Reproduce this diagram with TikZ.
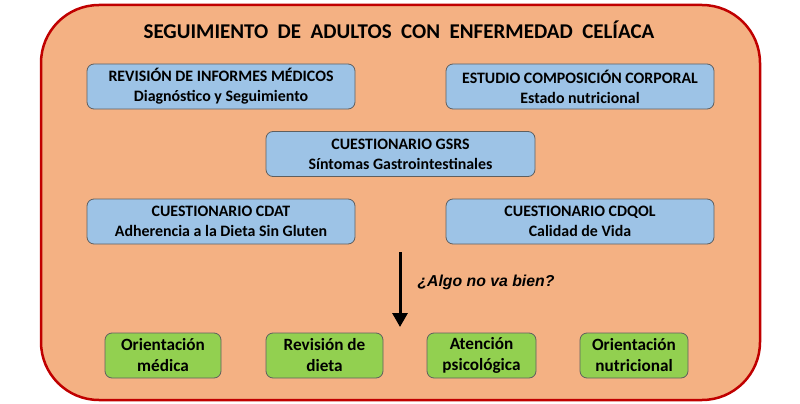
\documentclass[tikz,border=0pt]{standalone}
\usepackage{fontspec}
\setmainfont{Carlito}
\newfontfamily\arialfont{Liberation Sans}
\usetikzlibrary{positioning,arrows.meta}
\definecolor{peach}{HTML}{F4B183}
\definecolor{framered}{HTML}{C00000}
\definecolor{skyblue}{HTML}{9DC3E6}
\definecolor{leafgreen}{HTML}{92D050}
\definecolor{boxedge}{HTML}{5F5F5F}
\tikzset{
  panel/.style={draw=framered, line width=2.5pt, fill=peach, rounded corners=58pt},
  infobox/.style={draw=boxedge, fill=skyblue, rounded corners=7pt, line width=0.8pt,
    minimum width=268pt, minimum height=45pt, inner sep=0pt, align=center,
    font=\fontsize{15.9}{20}\selectfont\bfseries},
  actbox/.style={draw=boxedge, fill=leafgreen, rounded corners=7pt, line width=0.8pt,
    minimum height=45pt, inner sep=0pt, align=center,
    font=\fontsize{17.2}{21}\selectfont\bfseries},
  flow/.style={line width=3pt, -{Triangle[width=15pt,length=14pt]}}
}
\begin{document}
\begin{tikzpicture}[x=1pt,y=-1pt]
  \useasboundingbox (0,0) rectangle (800,404);
  \draw[panel] (41,5) rectangle (760,400);
  \node[font=\fontsize{21}{25}\selectfont\bfseries] (title) at (399,30)
    {SEGUIMIENTO\ \ DE\ \ ADULTOS\ \ CON\ \ ENFERMEDAD\ \ CELÍACA};
  % blue boxes
  \node[infobox] (informes) at (221,86.5) {REVISIÓN DE INFORMES MÉDICOS\\Diagnóstico y Seguimiento};
  \node[infobox] (corporal) at (580,86.5) {ESTUDIO COMPOSICIÓN CORPORAL\\Estado nutricional};
  \node[infobox, minimum width=269pt] (gsrs) at (400.5,154) {CUESTIONARIO GSRS\\Síntomas Gastrointestinales};
  \node[infobox] (cdat) at (221,221.5) {CUESTIONARIO CDAT\\Adherencia a la Dieta Sin Gluten};
  \node[infobox] (cdqol) at (580,221.5) {CUESTIONARIO CDQOL\\Calidad de Vida};
  % arrow and question
  \coordinate (qtop) at (400,252);
  \coordinate (qbot) at (400,327);
  \draw[flow] (qtop) -- (qbot);
  \node[anchor=west, font=\arialfont\fontsize{15.8}{19}\selectfont\bfseries\itshape] (question) at (414,282) {¿Algo no va bien?};
  % green boxes
  \node[actbox, minimum width=116pt] (medica) at (163,355.5) {Orientación\\médica};
  \node[actbox, minimum width=117pt] (dieta) at (324.5,355.5) {Revisión de\\dieta};
  \node[actbox, minimum width=109pt] (psico) at (481.5,355.5) {Atención\\psicológica};
  \node[actbox, minimum width=108pt] (nutri) at (634,355.5) {Orientación\\nutricional};
\end{tikzpicture}
\end{document}
